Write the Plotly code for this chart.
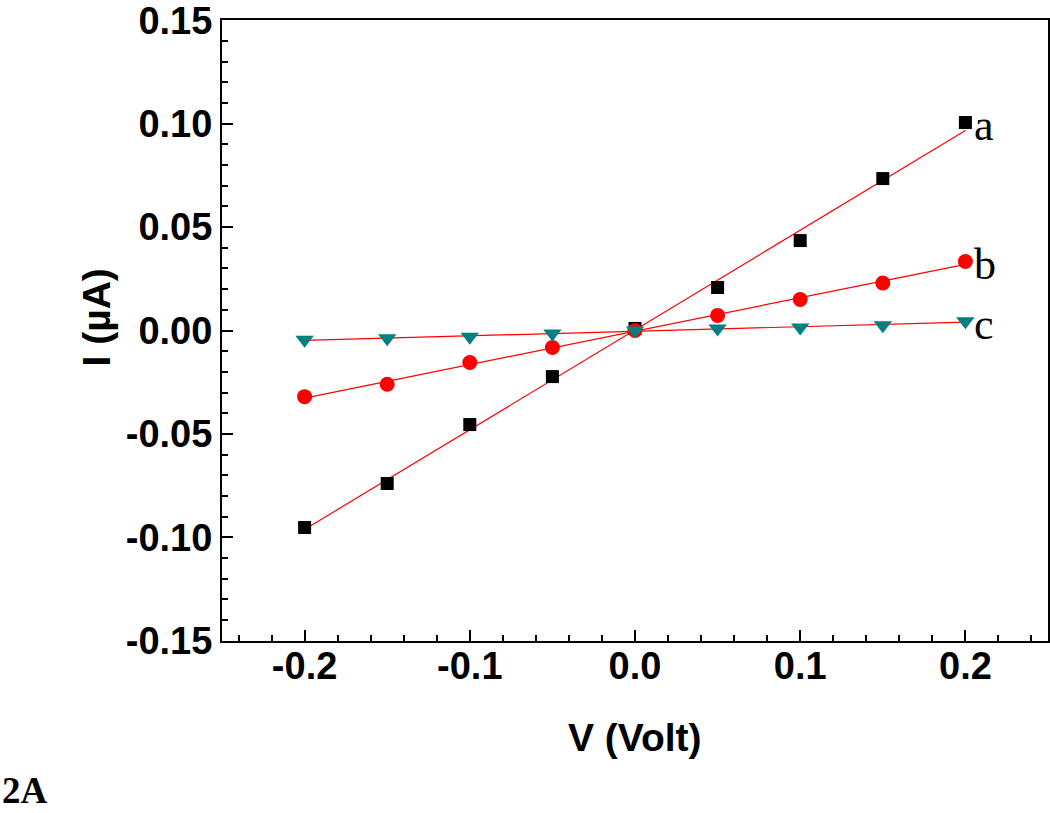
import numpy as np
import plotly.graph_objects as go

V = [-0.2, -0.15, -0.1, -0.05, 0.0, 0.05, 0.1, 0.15, 0.2]
I_a = [-0.0953, -0.0740, -0.0455, -0.0223, 0.0010, 0.0208, 0.0435, 0.0735, 0.1006]
I_b = [-0.0320, -0.0260, -0.0155, -0.0082, 0.0000, 0.0073, 0.0150, 0.0230, 0.0334]
I_c = [-0.0045, -0.0038, -0.0030, -0.0015, 0.0000, 0.0010, 0.0015, 0.0025, 0.0045]
labels = ["a", "b", "c"]

x_ticks = [-0.2, -0.1, 0.0, 0.1, 0.2]
y_ticks = [-0.15, -0.10, -0.05, 0.00, 0.05, 0.10, 0.15]

fig = go.Figure()
series = [
    (I_a, dict(symbol="square", size=13, color="black")),
    (I_b, dict(symbol="circle", size=15, color="#ff0000")),
    (I_c, dict(symbol="triangle-down", size=16, color="#008080")),
]
xv = np.array(V)
for ys, mk in series:
    # linear fit line
    k, b = np.polyfit(xv, np.array(ys), 1)
    fig.add_trace(go.Scatter(x=V, y=list(k * xv + b), mode="lines",
                             line=dict(color="#ff0000", width=1.2), showlegend=False))
for ys, mk in series:
    fig.add_trace(go.Scatter(x=V, y=ys, mode="markers", marker=mk, showlegend=False))

for lab, ys in zip(labels, [I_a, I_b, I_c]):
    fig.add_annotation(x=V[-1], y=ys[-1], text=lab, showarrow=False, xanchor="left",
                       yanchor="middle", xshift=7, yshift=-3,
                       font=dict(family="Liberation Serif", size=44, color="black"))

axis_font = dict(family="Liberation Sans", size=38, color="black")
title_font = dict(family="Liberation Sans", size=39, color="black")

fig.add_annotation(x=0.5, y=0, xref="paper", yref="paper", xanchor="center", yanchor="middle",
                   yshift=-96, text="<b>V (Volt)</b>", showarrow=False, font=title_font)
fig.add_annotation(x=0, y=0.5, xref="paper", yref="paper", xanchor="center", yanchor="middle",
                   xshift=-126, yshift=13, textangle=-90, text="<b>I (µA)</b>",
                   showarrow=False, font=title_font)
fig.add_annotation(x=0, y=0, xref="paper", yref="paper", xanchor="left", yanchor="bottom",
                   xshift=-222, yshift=-172, text="<b>2A</b>", showarrow=False,
                   font=dict(family="Liberation Serif", size=37, color="black"))

fig.update_layout(
    width=1050, height=813,
    margin=dict(l=222, r=2, t=20, b=172),
    paper_bgcolor="white", plot_bgcolor="white",
    xaxis=dict(range=[-0.25, 0.25], tickvals=x_ticks, ticktext=["<b>%.1f</b>" % v for v in x_ticks],
               ticks="inside", ticklen=11, tickwidth=2, tickcolor="black", automargin=False,
               showline=True, linecolor="black", linewidth=2, mirror=True,
               showgrid=False, zeroline=False, tickfont=axis_font, ticklabelstandoff=-10,
               ticklabeloverflow="allow",
               minor=dict(dtick=0.02, tick0=0, ticks="inside", ticklen=6, tickwidth=2, tickcolor="black")),
    yaxis=dict(range=[-0.1502, 0.1502], tickvals=y_ticks, ticktext=["<b>%.2f</b>" % v for v in y_ticks],
               ticks="inside", ticklen=11, tickwidth=2, tickcolor="black", automargin=False,
               showline=True, linecolor="black", linewidth=2, mirror=True,
               showgrid=False, zeroline=False, tickfont=axis_font, ticklabeloverflow="allow",
               minor=dict(dtick=0.01, tick0=0, ticks="inside", ticklen=6, tickwidth=2, tickcolor="black")),
)
fig.write_html("out.html", config={"displayModeBar": False},
               post_script="document.body.style.margin='0';document.body.style.overflow='hidden';")
